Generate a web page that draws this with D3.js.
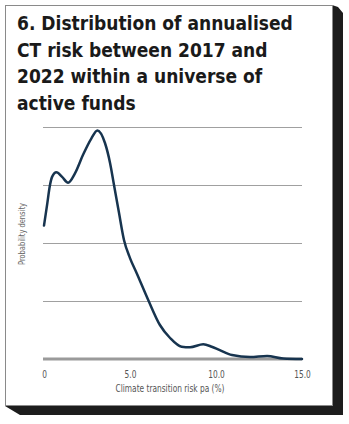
<!DOCTYPE html>
<html>
<head>
<meta charset="utf-8">
<script src="https://cdn.jsdelivr.net/npm/d3@7/dist/d3.min.js"></script>
<style>
  html, body { margin: 0; padding: 0; background: #ffffff; }
  svg { display: block; }
</style>
</head>
<body>
<script>
// ---- data ----
const titleLines = ["6. Distribution of annualised", "CT risk between 2017 and", "2022 within a universe of", "active funds"];
const xLabel = "Climate transition risk pa (%)";
const yLabel = "Probability density";
const xTickValues = [0, 5, 10, 15];
const xTickLabels = ["0", "5.0", "10.0", "15.0"];
const yGridValues = [0.05, 0.10, 0.15, 0.20];
const riskValues = [0, 0.19, 0.33, 0.47, 0.72, 1.05, 1.40, 1.80, 2.27, 2.75, 3.10, 3.55, 3.84, 4.07, 4.36, 4.65, 5.0, 5.39, 6.06, 6.74, 7.33, 8.0, 8.49, 9.26, 9.75, 10.19, 10.93, 11.98, 12.97, 13.9, 15.0];
const densityValues = [0.115, 0.134, 0.1485, 0.157, 0.161, 0.157, 0.152, 0.160, 0.176, 0.190, 0.197, 0.186, 0.169, 0.150, 0.126, 0.1026, 0.087, 0.074, 0.0509, 0.0293, 0.0181, 0.0106, 0.0101, 0.0127, 0.0106, 0.0078, 0.0034, 0.0017, 0.0026, 0.0004, 0.0];

const W = 349, H = 424;
const svg = d3.select("body").append("svg").attr("width", W).attr("height", H);

// frame shadow + box
svg.append("polygon")
  .attr("points", "332,5 338,7 343,13 343,415 20,415 5,406 332,406")
  .attr("fill", "#1d1d1d");
svg.append("rect")
  .attr("x", 5.5).attr("y", 5.5).attr("width", 327).attr("height", 400)
  .attr("fill", "#ffffff").attr("stroke", "#8a8a8a").attr("stroke-width", 1);

// title
const condensed = "'DejaVu Sans Condensed', 'Liberation Sans Narrow', 'Roboto', sans-serif";
const title = svg.append("g");
titleLines.forEach((t, i) => {
  title.append("text")
    .attr("x", 17).attr("y", 30 + i * 26.5)
    .attr("font-family", condensed)
    .attr("font-weight", "bold")
    .attr("font-size", 19)
    .attr("fill", "#1a1a1a")
    .text(t);
});

// scales
const x = d3.scaleLinear().domain([0, 15]).range([44, 302]);
const y = d3.scaleLinear().domain([0, 0.2]).range([359, 127]);

// gridlines
const grid = svg.append("g").attr("transform", `translate(43,0)`)
  .call(d3.axisLeft(y).tickValues(yGridValues).tickSize(-259).tickFormat(""));
grid.select(".domain").remove();
grid.selectAll(".tick line").attr("stroke", "#a0a0a0").attr("stroke-width", 1);

// baseline
svg.append("line")
  .attr("x1", 43).attr("x2", 302).attr("y1", y(0)).attr("y2", y(0))
  .attr("stroke", "#9a9a9a").attr("stroke-width", 3);

// x axis labels
const xa = svg.append("g").attr("transform", `translate(0,${y(0)})`)
  .call(d3.axisBottom(x).tickValues(xTickValues).tickSize(0).tickPadding(11)
    .tickFormat((d, i) => xTickLabels[i]));
xa.select(".domain").remove();
xa.selectAll(".tick text")
  .attr("font-family", condensed)
  .attr("font-size", 11)
  .attr("fill", "#555")
  .attr("transform", "scale(0.75,1)");

// curve
const pts = riskValues.map((v, i) => [v, densityValues[i]]);
const line = d3.line().x(d => x(d[0])).y(d => y(d[1])).curve(d3.curveMonotoneX);
svg.append("path").datum(pts)
  .attr("d", line)
  .attr("fill", "none")
  .attr("stroke", "#17344f")
  .attr("stroke-width", 2.5)
  .attr("stroke-linejoin", "round")
  .attr("stroke-linecap", "round");

// axis titles
svg.append("text")
  .attr("x", 170).attr("y", 392)
  .attr("text-anchor", "middle")
  .attr("font-family", condensed)
  .attr("font-size", 11)
  .attr("fill", "#555")
  .attr("textLength", 109)
  .attr("lengthAdjust", "spacingAndGlyphs")
  .text(xLabel);

svg.append("text")
  .attr("transform", "translate(25,234) rotate(-90)")
  .attr("text-anchor", "middle")
  .attr("font-family", condensed)
  .attr("font-size", 9.5)
  .attr("fill", "#666")
  .attr("textLength", 62)
  .attr("lengthAdjust", "spacingAndGlyphs")
  .text(yLabel);
</script>
</body>
</html>
